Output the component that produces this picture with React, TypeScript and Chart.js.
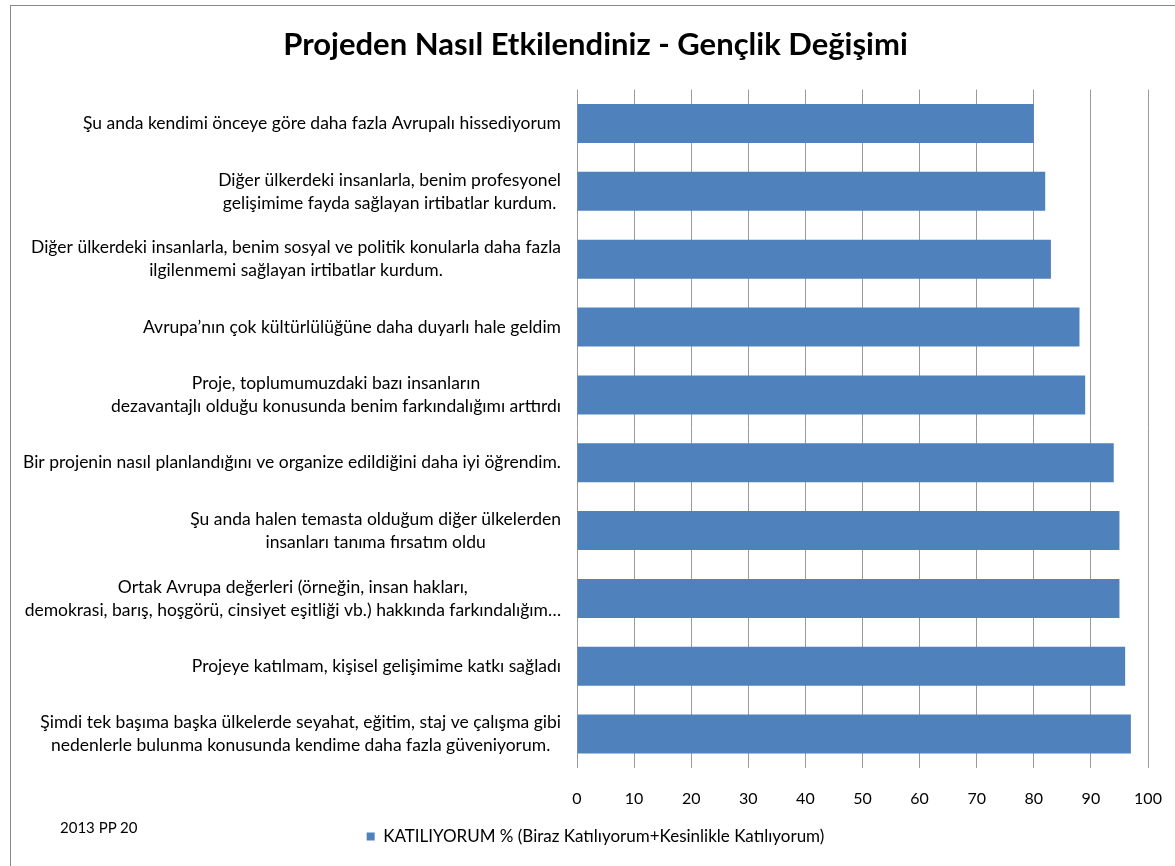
import React, { useEffect, useRef } from "react";
import { Chart, registerables } from "chart.js";

Chart.register(...registerables);

const categories: string[][] = [
  ["Şu anda kendimi önceye göre daha fazla Avrupalı hissediyorum"],
  ["Diğer ülkerdeki insanlarla, benim profesyonel", "gelişimime fayda sağlayan irtibatlar kurdum."],
  ["Diğer ülkerdeki insanlarla, benim sosyal ve politik konularla daha fazla", "ilgilenmemi sağlayan irtibatlar kurdum."],
  ["Avrupa’nın çok kültürlülüğüne daha duyarlı hale geldim"],
  ["Proje, toplumumuzdaki bazı insanların", "dezavantajlı olduğu konusunda benim farkındalığımı arttırdı"],
  ["Bir projenin nasıl planlandığını ve organize edildiğini daha iyi öğrendim."],
  ["Şu anda halen temasta olduğum diğer ülkelerden", "insanları tanıma fırsatım oldu"],
  ["Ortak Avrupa değerleri (örneğin, insan hakları,", "demokrasi, barış, hoşgörü, cinsiyet eşitliği vb.) hakkında farkındalığım…"],
  ["Projeye katılmam, kişisel gelişimime katkı sağladı"],
  ["Şimdi tek başıma başka ülkelerde seyahat, eğitim, staj ve çalışma gibi", "nedenlerle bulunma konusunda kendime daha fazla güveniyorum."],
];

const values: number[] = [80, 82, 83, 88, 89, 94, 95, 95, 96, 97];

const seriesLabel = "KATILIYORUM % (Biraz Katılıyorum+Kesinlikle Katılıyorum)";
const chartTitle = "Projeden Nasıl Etkilendiniz - Gençlik Değişimi";
const footnote = "2013 PP 20";
const xMin = 0;
const xMax = 100;
const xStep = 10;

const FONT = "Lato, 'Open Sans', 'DejaVu Sans', sans-serif";
const BAR_COLOR = "#4F81BD";
const LABEL_SIZE = 17.5;
const LABEL_LINE = 23;

const yLabelPlugin = {
  id: "yLabelsCentered",
  afterDraw(chart: any) {
    const ctx = chart.ctx as CanvasRenderingContext2D;
    const yScale = chart.scales.y;
    const labels = chart.data.labels as string[][];
    const right = chart.chartArea.left - 16;
    ctx.save();
    ctx.font = `${LABEL_SIZE}px ${FONT}`;
    ctx.fillStyle = "#000000";
    ctx.textBaseline = "middle";
    ctx.textAlign = "center";
    labels.forEach((lines, i) => {
      const y = yScale.getPixelForTick(i);
      const w = Math.max(...lines.map((l) => ctx.measureText(l).width));
      const cx = right - w / 2;
      const n = lines.length;
      lines.forEach((l, j) => {
        ctx.fillText(l, cx, y + (j - (n - 1) / 2) * LABEL_LINE);
      });
    });
    ctx.restore();
  },
};

export default function App() {
  const canvasRef = useRef<HTMLCanvasElement | null>(null);

  useEffect(() => {
    if (!canvasRef.current) return;
    const chart = new Chart(canvasRef.current, {
      type: "bar",
      data: {
        labels: categories,
        datasets: [
          {
            label: seriesLabel,
            data: values,
            backgroundColor: BAR_COLOR,
            borderWidth: 0,
            barPercentage: 0.575,
            categoryPercentage: 1,
          },
        ],
      },
      plugins: [yLabelPlugin],
      options: {
        indexAxis: "y",
        responsive: false,
        animation: false,
        layout: { padding: { left: 43, right: 27, top: 0, bottom: 11 } },
        scales: {
          x: {
            min: xMin,
            max: xMax,
            ticks: {
              stepSize: xStep,
              color: "#000000",
              font: { family: FONT, size: 16 },
              padding: 3.5,
            },
            grid: {
              color: "#9a9a9a",
              lineWidth: 1,
              drawTicks: true,
              tickLength: 18,
              tickColor: "rgba(0,0,0,0)",
            },
            border: { display: false },
            afterFit(scale: any) {
              scale.height = 50;
            },
          },
          y: {
            ticks: { display: false },
            grid: { display: false },
            border: { display: false },
            afterFit(scale: any) {
              scale.width = 534;
            },
          },
        },
        plugins: {
          title: {
            display: true,
            text: chartTitle,
            color: "#000000",
            font: { family: FONT, size: 31, weight: "bold" },
            padding: { top: 26, bottom: 26.4 },
          },
          legend: {
            display: true,
            position: "bottom",
            labels: {
              color: "#000000",
              font: { family: FONT, size: 17 },
              boxWidth: 8,
              boxHeight: 8,
              padding: 10,
            },
          },
          tooltip: { enabled: false },
        },
      },
    });
    return () => chart.destroy();
  }, []);

  return (
    <div
      style={{
        position: "fixed",
        left: 0,
        top: 0,
        width: 1175,
        height: 866,
        background: "#ffffff",
        overflow: "hidden",
      }}
    >
      <div
        style={{
          position: "absolute",
          left: 10,
          top: 5,
          width: 1300,
          height: 1000,
          borderTop: "1px solid #888888",
          borderLeft: "1px solid #888888",
        }}
      />
      <canvas ref={canvasRef} width={1175} height={866} style={{ position: "absolute", left: 0, top: 0 }} />
      <div
        style={{
          position: "absolute",
          left: 60,
          top: 818,
          fontFamily: FONT,
          fontSize: 15,
          color: "#000000",
          whiteSpace: "nowrap",
        }}
      >
        {footnote}
      </div>
    </div>
  );
}
